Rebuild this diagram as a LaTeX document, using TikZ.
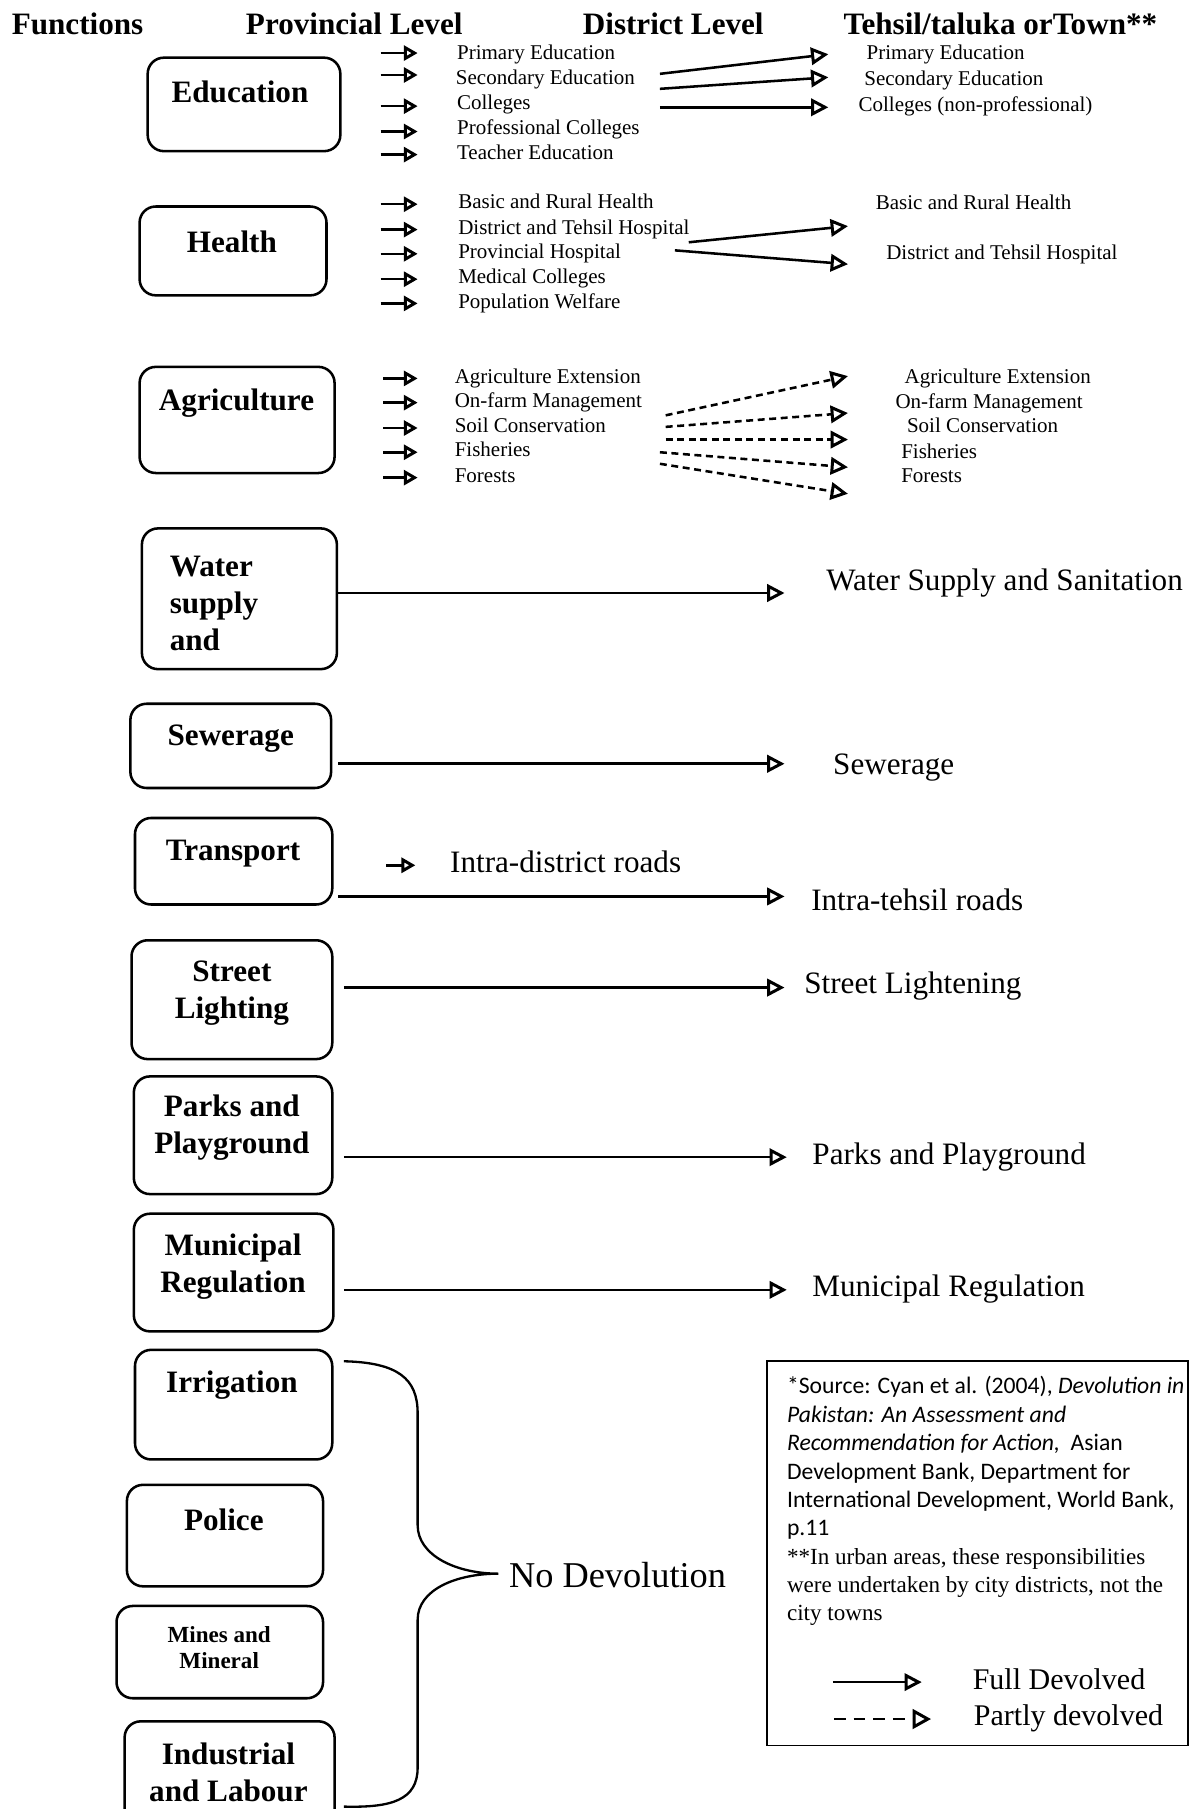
\documentclass[tikz,border=0pt]{standalone}
\usepackage{fontspec}
\setmainfont{Liberation Serif}
\newfontfamily\notefont{Carlito}
\usetikzlibrary{arrows.meta,positioning,fit,calc}
\tikzset{
  func/.style={draw, line width=2.2pt, rounded corners=14pt, inner sep=0pt},
  lab/.style={font=\fontsize{27}{32}\selectfont\bfseries, align=center, inner sep=0pt},
  head/.style={font=\fontsize{27}{30}\selectfont\bfseries, anchor=base west, inner sep=0pt},
  item/.style={font=\fontsize{18.2}{21}\selectfont, anchor=west, inner sep=0pt, text height=12pt, text depth=4pt},
  big/.style={font=\fontsize{27}{30}\selectfont, anchor=west, inner sep=0pt, text height=18pt, text depth=6pt},
  full/.style={-{Triangle[open, length=15pt, width=15pt, line width=2.6pt]}, line width=2.2pt},
  part/.style={full, dash pattern=on 6pt off 4pt},
  pre/.style={-{Triangle[open, length=12pt, width=13pt, line width=2.6pt]}, line width=2.2pt},
  legpart/.style={-{Triangle[open, length=16pt, width=17pt, line width=2.6pt]}, line width=2.2pt, dash pattern=on 10pt off 7pt},
}
\begin{document}
\begin{tikzpicture}[x=1pt, y=-1pt]
  \useasboundingbox (0,0) rectangle (1033,1568);
  % column heads
  \node[head] (hfun)  at (10,30)  {Functions};
  \node[head] (hprov) at (213,30) {Provincial Level};
  \node[head] (hdist) at (505,30) {District Level};
  \node[head] (htown) at (731,30) {Tehsil/taluka orTown**};
  % education
  \node[func, fit={(128,50)(295,131)}] (edu) {};
  \node[lab] (edul) at (208,80) {Education};
  \node[item] (pe1) at (396,48)  {Primary Education};
  \node[item] (pe2) at (395,69)  {Secondary Education};
  \node[item] (pe3) at (396,91)  {Colleges};
  \node[item] (pe4) at (396,113) {Professional Colleges};
  \node[item] (pe5) at (396,134) {Teacher Education};
  \draw[pre] ($(pe1.west)+(-66,-2)$) -- ($(pe1.west)+(-34,-2)$); \draw[pre] ($(pe2.west)+(-65,-4)$) -- ($(pe2.west)+(-33,-4)$);
  \draw[pre] ($(pe3.west)+(-66,1)$) -- ($(pe3.west)+(-34,1)$); \draw[pre] ($(pe4.west)+(-66,1)$) -- ($(pe4.west)+(-34,1)$);
  \draw[pre] ($(pe5.west)+(-66,0)$) -- ($(pe5.west)+(-34,0)$);
  \node[item] (te1) at (751,48) {Primary Education};
  \node[item] (te2) at (749,70) {Secondary Education};
  \node[item] (te3) at (744,93) {Colleges (non-professional)};
  \draw[full] ($(pe2.west)+(177,-5)$) -- ($(te1.west)+(-33,-1)$);
  \draw[full] ($(pe2.west)+(177,8)$) -- ($(te2.west)+(-31,-3)$);
  \draw[full] ($(pe3.west)+(176,2)$) -- ($(te3.west)+(-26,0)$);
  % health
  \node[func, fit={(121,179)(283,256)}] (hea) {};
  \node[lab] (heal) at (201,210) {Health};
  \node[item] (ph1) at (397,177) {Basic and Rural Health};
  \node[item] (ph2) at (397,199) {District and Tehsil Hospital};
  \node[item] (ph3) at (397,220) {Provincial Hospital};
  \node[item] (ph4) at (397,242) {Medical Colleges};
  \node[item] (ph5) at (397,263) {Population Welfare};
  \draw[pre] ($(ph1.west)+(-67,0)$) -- ($(ph1.west)+(-35,0)$); \draw[pre] ($(ph2.west)+(-67,0)$) -- ($(ph2.west)+(-35,0)$);
  \draw[pre] ($(ph3.west)+(-67,0)$) -- ($(ph3.west)+(-35,0)$); \draw[pre] ($(ph4.west)+(-67,0)$) -- ($(ph4.west)+(-35,0)$);
  \draw[pre] ($(ph5.west)+(-67,0)$) -- ($(ph5.west)+(-35,0)$);
  \node[item] (th1) at (759,178) {Basic and Rural Health};
  \node[item] (th2) at (768,221) {District and Tehsil Hospital};
  \draw[full] ($(ph2.west)+(200,11)$) -- ($(th1.west)+(-24,18)$);
  \draw[full] ($(ph3.west)+(188,-3)$) -- ($(th2.west)+(-33,8)$);
  % agriculture
  \node[func, fit={(121,318)(290,410)}] (agr) {};
  \node[lab] (agrl) at (205,349) {Agriculture};
  \node[item] (pa1) at (394,328) {Agriculture Extension};
  \node[item] (pa2) at (394,349) {On-farm Management};
  \node[item] (pa3) at (394,371) {Soil Conservation};
  \node[item] (pa4) at (394,392) {Fisheries};
  \node[item] (pa5) at (394,414) {Forests};
  \draw[pre] ($(pa1.west)+(-62,0)$) -- ($(pa1.west)+(-32,0)$); \draw[pre] ($(pa2.west)+(-62,0)$) -- ($(pa2.west)+(-32,0)$);
  \draw[pre] ($(pa3.west)+(-62,0)$) -- ($(pa3.west)+(-32,0)$); \draw[pre] ($(pa4.west)+(-62,0)$) -- ($(pa4.west)+(-32,0)$);
  \draw[pre] ($(pa5.west)+(-62,0)$) -- ($(pa5.west)+(-32,0)$);
  \node[item] (ta1) at (784,328) {Agriculture Extension};
  \node[item] (ta2) at (776,350) {On-farm Management};
  \node[item] (ta3) at (786,371) {Soil Conservation};
  \node[item] (ta4) at (781,393) {Fisheries};
  \node[item] (ta5) at (781,414) {Forests};
  \draw[part] ($(pa2.west)+(183,11)$) -- ($(ta1.west)+(-49,-2)$);
  \draw[part] ($(pa3.west)+(183,-1)$) -- ($(ta2.west)+(-41,8)$);
  \draw[part] ($(pa3.west)+(183,10)$) -- ($(ta3.west)+(-51,10)$);
  \draw[part] ($(pa4.west)+(178,0)$) -- ($(ta4.west)+(-46,12)$);
  \draw[part] ($(pa4.west)+(178,10)$) -- ($(ta5.west)+(-46,14)$);
  % fully devolved functions
  \node[func, fit={(123,458)(292,580)}] (wat) {};
  \node[lab, align=left, anchor=west] (watl) at (147,523) {Water\\supply\\and};
  \node[big] (twat) at (716,506) {Water Supply and Sanitation};
  \draw[full] ($(wat.east)+(0,-5)$) -- ($(twat.west)+(-36,8)$);
  \node[func, fit={(113,610)(287,683)}] (sew) {};
  \node[lab] (sewl) at (200,640) {Sewerage};
  \node[big] (tsew) at (722,665) {Sewerage};
  \draw[full] ($(sew.east)+(5,15.5)$) -- ($(tsew.west)+(-42,-3)$);
  \node[func, fit={(117,709)(288,784)}] (tra) {};
  \node[lab] (tral) at (202,740) {Transport};
  \node[big] (ttra1) at (390,750) {Intra-district roads};
  \node[big] (ttra2) at (703,783) {Intra-tehsil roads};
  \draw[pre] ($(ttra1.west)+(-55,0)$) -- ($(ttra1.west)+(-30,0)$);
  \draw[full] ($(tra.east)+(4,30.5)$) -- ($(ttra2.west)+(-23,-6)$);
  \node[func, fit={(114,815)(288,918)}] (str) {};
  \node[lab] (strl) at (201,861) {Street\\Lighting};
  \node[big] (tstr) at (697,855) {Street Lightening};
  \draw[full] ($(str.east)+(9,-10.5)$) -- ($(tstr.west)+(-17,1)$);
  \node[func, fit={(116,933)(288,1035)}] (par) {};
  \node[lab] (parl) at (201,977) {Parks and\\Playground};
  \node[big] (tpar) at (704,1003) {Parks and Playground};
  \draw[full] ($(par.east)+(9,19)$) -- ($(tpar.west)+(-22,0)$);
  \node[func, fit={(116,1052)(289,1154)}] (mun) {};
  \node[lab] (munl) at (202,1098) {Municipal\\Regulation};
  \node[big] (tmun) at (704,1118) {Municipal Regulation};
  \draw[full] ($(mun.east)+(8,15)$) -- ($(tmun.west)+(-22,0)$);
  % not devolved
  \node[func, fit={(117,1170)(288,1265)}] (irr) {};
  \node[lab] (irrl) at (201,1201) {Irrigation};
  \node[func, fit={(110,1287)(280,1375)}] (pol) {};
  \node[lab] (poll) at (194,1317) {Police};
  \node[func, fit={(101,1392)(280,1472)}] (min) {};
  \node[lab, font=\fontsize{20}{23}\selectfont\bfseries] (minl) at (190,1428) {Mines and\\Mineral};
  \node[func, fit={(108,1492)(290,1595)}] (ind) {};
  \node[lab] (indl) at (198,1536) {Industrial\\and Labour};
  \node[big, font=\fontsize{31.5}{34}\selectfont] (nodev) at (441,1370) {No Devolution};
  \coordinate (tip) at ($(nodev.west)+(-9,-6)$);
  \draw[line width=2pt] ($(irr.north east)+(9,11)$) .. controls (345,1181) and (362,1195) .. (362,1225)
    -- (362,1322) .. controls (362,1348) and (395,1364) .. (tip)
    .. controls (395,1364) and (362,1378) .. (362,1404) -- (362,1532)
    .. controls (362,1560) and (340,1567) .. ($(ind.north east)+(7,75)$);
  % source and legend
  \node[draw, line width=1.6pt, inner sep=0pt, fit={(665,1180)(1030,1513)}] (src) {};
  \node[anchor=north west, align=left, inner sep=0pt, font=\notefont\fontsize{20.5}{24.6}\selectfont] (srct) at (682,1193)
    {*Source: Cyan et al. (2004), \textit{Devolution in}\\
     \textit{Pakistan: An Assessment and}\\
     \textit{Recommendation for Action,}\ \ Asian\\
     Development Bank, Department for\\
     International Development, World Bank,\\
     p.11\\
     \rmfamily\fontsize{20}{24.6}\selectfont **In urban areas, these responsibilities\\
     \rmfamily\fontsize{20}{24.6}\selectfont were undertaken by city districts, not the\\
     \rmfamily\fontsize{20}{24.6}\selectfont city towns};
  \node[big, font=\fontsize{26}{30}\selectfont] (lfull) at (843,1458) {Full Devolved};
  \node[big, font=\fontsize{26}{30}\selectfont] (lpart) at (844,1490) {Partly devolved};
  \draw[full] ($(lfull.west)+(-121,0)$) -- ($(lfull.west)+(-44,0)$);
  \draw[legpart] ($(lpart.west)+(-121,0)$) -- ($(lpart.west)+(-37,0)$);
\end{tikzpicture}
\end{document}
